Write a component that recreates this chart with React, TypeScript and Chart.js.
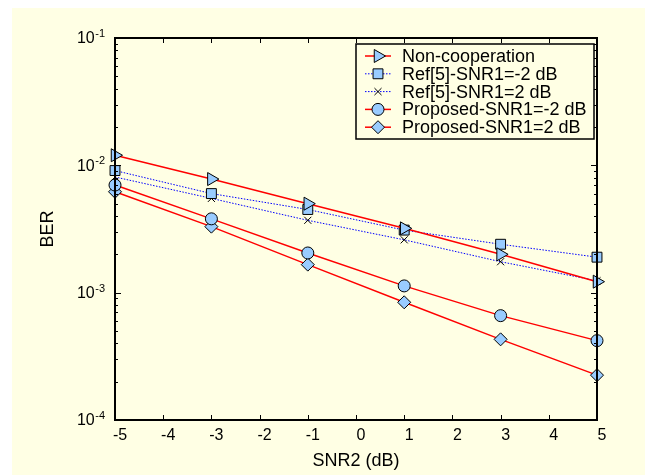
import { useEffect, useRef } from 'react';
import { Chart, registerables } from 'chart.js';
import { drawPoint } from 'chart.js/helpers';

Chart.register(...registerables);

// SNR2 sweep (dB) and measured bit error rates
const snr2 = [-5, -3, -1, 1, 3, 5];
const nonCooperation = [0.0120, 0.0078, 0.0050, 0.0032, 0.0020, 0.00122];
const ref5Snr1Minus2 = [0.0091, 0.0060, 0.0045, 0.0031, 0.0024, 0.0019];
const ref5Snr1Plus2 = [0.0081, 0.0055, 0.0037, 0.0026, 0.00175, 0.00124];
const proposedSnr1Minus2 = [0.0070, 0.0038, 0.00205, 0.00113, 0.00066, 0.00042];
const proposedSnr1Plus2 = [0.0062, 0.0033, 0.00166, 0.00084, 0.00043, 0.000225];

const seriesLabels = [
  'Non-cooperation',
  'Ref[5]-SNR1=-2 dB',
  'Ref[5]-SNR1=2 dB',
  'Proposed-SNR1=-2 dB',
  'Proposed-SNR1=2 dB',
];

const xTickValues = [-5, -4, -3, -2, -1, 0, 1, 2, 3, 4, 5];
const yDecadeExponents = [-4, -3, -2, -1];

const FONT = '"Liberation Sans", Arial, Helvetica, sans-serif';
const BG = '#FFFFE4';
const MARKER_FILL = '#99CCFF';
const RED = '#FF0000';
const BLUE = '#0000FF';

type Style = {
  color: string;
  dash: number[];
  width: number;
  pointStyle: string;
  radius: number;
  rotation: number;
  fill: string;
};

const styles: Style[] = [
  { color: RED, dash: [], width: 1.5, pointStyle: 'triangle', radius: 7.5, rotation: 90, fill: MARKER_FILL },
  { color: BLUE, dash: [1.5, 1.5], width: 1, pointStyle: 'rect', radius: 7, rotation: 0, fill: MARKER_FILL },
  { color: BLUE, dash: [1.5, 1.5], width: 1, pointStyle: 'crossRot', radius: 5, rotation: 0, fill: '#000' },
  { color: RED, dash: [], width: 1.5, pointStyle: 'circle', radius: 6, rotation: 0, fill: MARKER_FILL },
  { color: RED, dash: [], width: 1.5, pointStyle: 'rectRot', radius: 6.5, rotation: 0, fill: MARKER_FILL },
];

const seriesValues = [nonCooperation, ref5Snr1Minus2, ref5Snr1Plus2, proposedSnr1Minus2, proposedSnr1Plus2];

const framePlugin = {
  id: 'frameAndLegend',
  beforeDraw(chart: any) {
    const { ctx, width, height } = chart;
    ctx.save();
    ctx.fillStyle = BG;
    ctx.fillRect(0, 0, width, height);
    ctx.restore();
  },
  afterDraw(chart: any) {
    const { ctx, chartArea } = chart;
    const { left, right, top, bottom } = chartArea;
    const xs = chart.scales.x;
    const ys = chart.scales.y;
    ctx.save();

    // inward tick marks on all four sides
    ctx.strokeStyle = '#000';
    ctx.lineWidth = 1;
    ctx.beginPath();
    for (const v of xTickValues) {
      const px = Math.round(xs.getPixelForValue(v)) + 0.5;
      ctx.moveTo(px, bottom);
      ctx.lineTo(px, bottom - 5);
      ctx.moveTo(px, top);
      ctx.lineTo(px, top + 5);
    }
    for (const e of yDecadeExponents) {
      for (let m = 1; m <= 9; m++) {
        if (e === -1 && m > 1) break;
        const py = Math.round(ys.getPixelForValue(m * Math.pow(10, e))) + 0.5;
        const len = m === 1 ? 6 : 3;
        ctx.moveTo(left, py);
        ctx.lineTo(left + len, py);
        ctx.moveTo(right, py);
        ctx.lineTo(right - len, py);
      }
    }
    ctx.stroke();

    // plot frame
    ctx.lineWidth = 2;
    ctx.strokeRect(left, top, right - left, bottom - top);

    // decade labels 10^n
    ctx.fillStyle = '#000';
    for (const e of yDecadeExponents) {
      const py = ys.getPixelForValue(Math.pow(10, e));
      const sup = String(e);
      ctx.font = `11px ${FONT}`;
      ctx.textAlign = 'right';
      ctx.textBaseline = 'alphabetic';
      const supRight = left - 10;
      ctx.fillText(sup, supRight, py - 1);
      const supW = ctx.measureText(sup).width;
      ctx.font = `16px ${FONT}`;
      ctx.textBaseline = 'middle';
      ctx.fillText('10', supRight - supW - 0.5, py + 1);
    }

    // legend box
    const lx = 344;
    const ly = 36;
    const lw = 238;
    const lh = 95;
    ctx.fillStyle = BG;
    ctx.fillRect(lx, ly, lw, lh);
    ctx.lineWidth = 1.5;
    ctx.strokeStyle = '#000';
    ctx.strokeRect(lx, ly, lw, lh);

    seriesLabels.forEach((label, i) => {
      const st = styles[i];
      const cy = 48 + i * 17.8;
      ctx.save();
      ctx.strokeStyle = st.color;
      ctx.lineWidth = st.width;
      ctx.setLineDash(st.dash);
      ctx.beginPath();
      ctx.moveTo(353, cy);
      ctx.lineTo(379, cy);
      ctx.stroke();
      ctx.restore();

      ctx.save();
      ctx.fillStyle = st.fill;
      ctx.strokeStyle = '#000';
      ctx.lineWidth = 1;
      drawPoint(ctx, { pointStyle: st.pointStyle as any, rotation: st.rotation, radius: st.radius, borderWidth: 1 }, 366, cy);
      ctx.restore();

      ctx.fillStyle = '#000';
      ctx.font = `18px ${FONT}`;
      ctx.textAlign = 'left';
      ctx.textBaseline = 'middle';
      ctx.fillText(label, 390, cy + 1);
    });

    ctx.restore();
  },
};

export default function App() {
  const canvasRef = useRef<HTMLCanvasElement | null>(null);

  useEffect(() => {
    const canvas = canvasRef.current;
    if (!canvas) return;

    const datasets = seriesLabels.map((label, i) => {
      const st = styles[i];
      return {
        label,
        data: snr2.map((x, j) => ({ x, y: seriesValues[i][j] })),
        borderColor: st.color,
        borderWidth: st.width,
        borderDash: st.dash,
        backgroundColor: st.fill,
        pointStyle: st.pointStyle,
        pointRadius: st.radius,
        pointRotation: st.rotation,
        pointBackgroundColor: st.fill,
        pointBorderColor: '#000',
        pointBorderWidth: 1,
        fill: false,
        tension: 0,
        clip: false as const,
      };
    });

    const chart = new Chart(canvas, {
      type: 'line',
      data: { datasets: datasets as any },
      options: {
        responsive: false,
        animation: false,
        layout: { padding: { top: 30, right: 60, left: 0, bottom: 0 } },
        plugins: { legend: { display: false }, tooltip: { enabled: false } },
        scales: {
          x: {
            type: 'linear',
            min: -5,
            max: 5,
            grid: { display: false, drawTicks: false },
            border: { display: false },
            ticks: {
              stepSize: 1,
              color: '#000',
              font: { family: FONT, size: 16 },
              padding: 6,
              labelOffset: 5,
              callback: (v: any) => String(v),
            },
            title: {
              display: true,
              text: 'SNR2 (dB)',
              color: '#000',
              font: { family: FONT, size: 18 },
              padding: { top: 0, bottom: 11 },
            },
            afterFit: (scale: any) => {
              scale.height = 63;
            },
          },
          y: {
            type: 'logarithmic',
            min: 1e-4,
            max: 1e-1,
            grid: { display: false, drawTicks: false },
            border: { display: false },
            ticks: { display: false },
            title: {
              display: true,
              text: 'BER',
              color: '#000',
              font: { family: FONT, size: 18 },
              padding: { top: 25, bottom: 0 },
            },
            afterFit: (scale: any) => {
              scale.width = 103;
            },
          },
        },
      },
      plugins: [framePlugin],
    });

    return () => chart.destroy();
  }, []);

  return (
    <canvas
      ref={canvasRef}
      width={645}
      height={475}
      style={{ display: 'block', position: 'fixed', left: 12, top: 8 }}
    />
  );
}
